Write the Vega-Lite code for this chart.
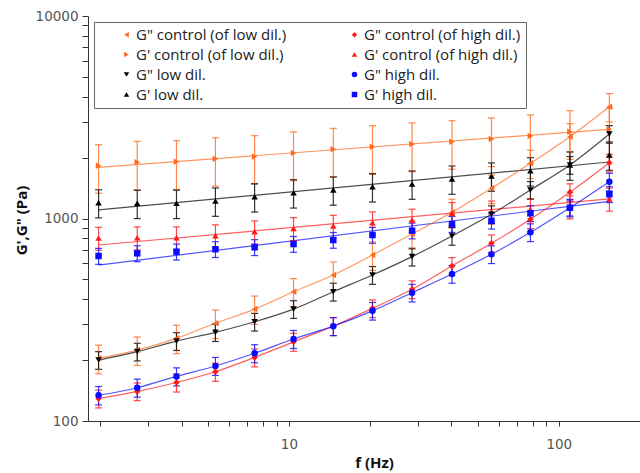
{
  "$schema": "https://vega.github.io/schema/vega-lite/v6.json",
  "width": 552,
  "height": 405,
  "autosize": {"type": "none"},
  "padding": {"left": 88, "top": 16, "right": 0, "bottom": 52},
  "config": {
    "view": {"stroke": null}, "font": "Open Sans",
    "legend": {
      "orient": "none", "legendX": 6, "legendY": 6, "columns": 2,
      "columnPadding": 40, "rowPadding": 4, "padding": 5,
      "strokeColor": "#666", "fillColor": "white",
      "labelFont": "Open Sans", "labelFontSize": 15, "labelColor": "#222", "labelLimit": 400,
      "symbolSize": 30, "symbolOffset": 20, "labelOffset": 2, "symbolStrokeWidth": 0, "symbolOpacity": 1
    }
  },
  "datasets": {
    "fit": [
      {"s": "G' control (of low dil.)", "f": 1.97, "v": 1790},
      {"s": "G' control (of low dil.)", "f": 154, "v": 2757},
      {"s": "G' control (of high dil.)", "f": 1.97, "v": 740},
      {"s": "G' control (of high dil.)", "f": 154, "v": 1249},
      {"s": "G' low dil.", "f": 1.97, "v": 1102},
      {"s": "G' low dil.", "f": 154, "v": 1901},
      {"s": "G' high dil.", "f": 1.97, "v": 589},
      {"s": "G' high dil.", "f": 154, "v": 1215}
    ],
    "pts": [
      {"s": "G\" control (of low dil.)", "f": 1.97, "v": 204, "e": 33},
      {"s": "G\" control (of low dil.)", "f": 2.74, "v": 224, "e": 36},
      {"s": "G\" control (of low dil.)", "f": 3.83, "v": 256, "e": 41},
      {"s": "G\" control (of low dil.)", "f": 5.34, "v": 304, "e": 49},
      {"s": "G\" control (of low dil.)", "f": 7.46, "v": 357, "e": 57},
      {"s": "G\" control (of low dil.)", "f": 10.4, "v": 435, "e": 70},
      {"s": "G\" control (of low dil.)", "f": 14.6, "v": 526, "e": 84},
      {"s": "G\" control (of low dil.)", "f": 20.4, "v": 660, "e": 106},
      {"s": "G\" control (of low dil.)", "f": 28.6, "v": 838, "e": 134},
      {"s": "G\" control (of low dil.)", "f": 40.2, "v": 1073, "e": 172},
      {"s": "G\" control (of low dil.)", "f": 56.3, "v": 1410, "e": 226},
      {"s": "G\" control (of low dil.)", "f": 78.5, "v": 1873, "e": 300},
      {"s": "G\" control (of low dil.)", "f": 110, "v": 2535, "e": 406},
      {"s": "G\" control (of low dil.)", "f": 154, "v": 3566, "e": 570},
      {"s": "G\" control (of high dil.)", "f": 1.97, "v": 129, "e": 13},
      {"s": "G\" control (of high dil.)", "f": 2.74, "v": 140, "e": 14},
      {"s": "G\" control (of high dil.)", "f": 3.83, "v": 155, "e": 16},
      {"s": "G\" control (of high dil.)", "f": 5.34, "v": 175, "e": 18},
      {"s": "G\" control (of high dil.)", "f": 7.46, "v": 206, "e": 21},
      {"s": "G\" control (of high dil.)", "f": 10.4, "v": 246, "e": 25},
      {"s": "G\" control (of high dil.)", "f": 14.6, "v": 294, "e": 30},
      {"s": "G\" control (of high dil.)", "f": 20.4, "v": 360, "e": 36},
      {"s": "G\" control (of high dil.)", "f": 28.6, "v": 447, "e": 45},
      {"s": "G\" control (of high dil.)", "f": 40.2, "v": 583, "e": 58},
      {"s": "G\" control (of high dil.)", "f": 56.3, "v": 754, "e": 75},
      {"s": "G\" control (of high dil.)", "f": 78.5, "v": 991, "e": 99},
      {"s": "G\" control (of high dil.)", "f": 110, "v": 1348, "e": 135},
      {"s": "G\" control (of high dil.)", "f": 154, "v": 1886, "e": 189},
      {"s": "G' control (of low dil.)", "f": 1.97, "v": 1823, "e": 490},
      {"s": "G' control (of low dil.)", "f": 2.74, "v": 1895, "e": 510},
      {"s": "G' control (of low dil.)", "f": 3.83, "v": 1908, "e": 515},
      {"s": "G' control (of low dil.)", "f": 5.34, "v": 1974, "e": 530},
      {"s": "G' control (of low dil.)", "f": 7.46, "v": 2020, "e": 545},
      {"s": "G' control (of low dil.)", "f": 10.4, "v": 2107, "e": 570},
      {"s": "G' control (of low dil.)", "f": 14.6, "v": 2197, "e": 590},
      {"s": "G' control (of low dil.)", "f": 20.4, "v": 2263, "e": 610},
      {"s": "G' control (of low dil.)", "f": 28.6, "v": 2333, "e": 630},
      {"s": "G' control (of low dil.)", "f": 40.2, "v": 2395, "e": 645},
      {"s": "G' control (of low dil.)", "f": 56.3, "v": 2470, "e": 665},
      {"s": "G' control (of low dil.)", "f": 78.5, "v": 2556, "e": 690},
      {"s": "G' control (of low dil.)", "f": 110, "v": 2683, "e": 725},
      {"s": "G' control (of low dil.)", "f": 154, "v": 2757, "e": 745},
      {"s": "G' control (of high dil.)", "f": 1.97, "v": 801, "e": 104},
      {"s": "G' control (of high dil.)", "f": 2.74, "v": 804, "e": 105},
      {"s": "G' control (of high dil.)", "f": 3.83, "v": 804, "e": 105},
      {"s": "G' control (of high dil.)", "f": 5.34, "v": 823, "e": 107},
      {"s": "G' control (of high dil.)", "f": 7.46, "v": 861, "e": 112},
      {"s": "G' control (of high dil.)", "f": 10.4, "v": 894, "e": 116},
      {"s": "G' control (of high dil.)", "f": 14.6, "v": 918, "e": 119},
      {"s": "G' control (of high dil.)", "f": 20.4, "v": 954, "e": 124},
      {"s": "G' control (of high dil.)", "f": 28.6, "v": 983, "e": 128},
      {"s": "G' control (of high dil.)", "f": 40.2, "v": 1061, "e": 138},
      {"s": "G' control (of high dil.)", "f": 56.3, "v": 1080, "e": 140},
      {"s": "G' control (of high dil.)", "f": 78.5, "v": 1110, "e": 144},
      {"s": "G' control (of high dil.)", "f": 110, "v": 1144, "e": 149},
      {"s": "G' control (of high dil.)", "f": 154, "v": 1250, "e": 163},
      {"s": "G\" low dil.", "f": 1.97, "v": 200, "e": 20},
      {"s": "G\" low dil.", "f": 2.74, "v": 220, "e": 22},
      {"s": "G\" low dil.", "f": 3.83, "v": 248, "e": 25},
      {"s": "G\" low dil.", "f": 5.34, "v": 274, "e": 27},
      {"s": "G\" low dil.", "f": 7.46, "v": 309, "e": 31},
      {"s": "G\" low dil.", "f": 10.4, "v": 357, "e": 36},
      {"s": "G\" low dil.", "f": 14.6, "v": 435, "e": 44},
      {"s": "G\" low dil.", "f": 20.4, "v": 526, "e": 53},
      {"s": "G\" low dil.", "f": 28.6, "v": 648, "e": 65},
      {"s": "G\" low dil.", "f": 40.2, "v": 820, "e": 82},
      {"s": "G\" low dil.", "f": 56.3, "v": 1049, "e": 105},
      {"s": "G\" low dil.", "f": 78.5, "v": 1383, "e": 138},
      {"s": "G\" low dil.", "f": 110, "v": 1838, "e": 184},
      {"s": "G\" low dil.", "f": 154, "v": 2614, "e": 261},
      {"s": "G\" high dil.", "f": 1.97, "v": 134, "e": 14},
      {"s": "G\" high dil.", "f": 2.74, "v": 146, "e": 15},
      {"s": "G\" high dil.", "f": 3.83, "v": 166, "e": 17},
      {"s": "G\" high dil.", "f": 5.34, "v": 187, "e": 19},
      {"s": "G\" high dil.", "f": 7.46, "v": 216, "e": 22},
      {"s": "G\" high dil.", "f": 10.4, "v": 254, "e": 26},
      {"s": "G\" high dil.", "f": 14.6, "v": 294, "e": 30},
      {"s": "G\" high dil.", "f": 20.4, "v": 350, "e": 35},
      {"s": "G\" high dil.", "f": 28.6, "v": 430, "e": 43},
      {"s": "G\" high dil.", "f": 40.2, "v": 532, "e": 53},
      {"s": "G\" high dil.", "f": 56.3, "v": 666, "e": 67},
      {"s": "G\" high dil.", "f": 78.5, "v": 855, "e": 86},
      {"s": "G\" high dil.", "f": 110, "v": 1131, "e": 113},
      {"s": "G\" high dil.", "f": 154, "v": 1520, "e": 152},
      {"s": "G' low dil.", "f": 1.97, "v": 1197, "e": 190},
      {"s": "G' low dil.", "f": 2.74, "v": 1189, "e": 190},
      {"s": "G' low dil.", "f": 3.83, "v": 1189, "e": 190},
      {"s": "G' low dil.", "f": 5.34, "v": 1220, "e": 195},
      {"s": "G' low dil.", "f": 7.46, "v": 1281, "e": 205},
      {"s": "G' low dil.", "f": 10.4, "v": 1341, "e": 215},
      {"s": "G' low dil.", "f": 14.6, "v": 1383, "e": 220},
      {"s": "G' low dil.", "f": 20.4, "v": 1436, "e": 230},
      {"s": "G' low dil.", "f": 28.6, "v": 1481, "e": 237},
      {"s": "G' low dil.", "f": 40.2, "v": 1567, "e": 250},
      {"s": "G' low dil.", "f": 56.3, "v": 1622, "e": 260},
      {"s": "G' low dil.", "f": 78.5, "v": 1722, "e": 275},
      {"s": "G' low dil.", "f": 110, "v": 1838, "e": 294},
      {"s": "G' low dil.", "f": 154, "v": 2059, "e": 330},
      {"s": "G' high dil.", "f": 1.97, "v": 653, "e": 59},
      {"s": "G' high dil.", "f": 2.74, "v": 673, "e": 61},
      {"s": "G' high dil.", "f": 3.83, "v": 686, "e": 62},
      {"s": "G' high dil.", "f": 5.34, "v": 705, "e": 63},
      {"s": "G' high dil.", "f": 7.46, "v": 721, "e": 65},
      {"s": "G' high dil.", "f": 10.4, "v": 748, "e": 67},
      {"s": "G' high dil.", "f": 14.6, "v": 783, "e": 70},
      {"s": "G' high dil.", "f": 20.4, "v": 829, "e": 75},
      {"s": "G' high dil.", "f": 28.6, "v": 871, "e": 78},
      {"s": "G' high dil.", "f": 40.2, "v": 939, "e": 85},
      {"s": "G' high dil.", "f": 56.3, "v": 975, "e": 88},
      {"s": "G' high dil.", "f": 78.5, "v": 1061, "e": 95},
      {"s": "G' high dil.", "f": 110, "v": 1131, "e": 102},
      {"s": "G' high dil.", "f": 154, "v": 1317, "e": 119}
    ]
  },
  "encoding": {
    "x": {
      "field": "f", "type": "quantitative",
      "scale": {"type": "log", "domain": [1.8, 200], "nice": false},
      "axis": {
        "title": "f (Hz)",
        "values": [2, 3, 4, 5, 6, 7, 8, 9, 10, 20, 30, 40, 50, 60, 70, 80, 90, 100, 200],
        "labelExpr": "datum.value == 10 ? '10' : datum.value == 100 ? '100' : ''",
        "labelFont": "DejaVu Sans", "labelFontSize": 13.5, "labelColor": "#555",
        "labelPadding": 11, "labelOverlap": false, "labelBound": false, "labelFlush": false,
        "tickSize": 5, "tickColor": "#333", "domainColor": "#333", "grid": false,
        "titleFont": "Open Sans", "titleFontSize": 15, "titleFontWeight": "bold", "titleColor": "#111",
        "titleX": 286, "titleY": 46, "titleBaseline": "alphabetic", "titleAlign": "center",
        "encode": {"ticks": {"update": {"y2": {"signal": "(datum.value == 10 || datum.value == 100) ? 7 : 5"}}}}
      }
    },
    "y": {
      "field": "v", "type": "quantitative",
      "scale": {"type": "log", "domain": [100, 10000], "nice": false},
      "axis": {
        "title": "G',G\" (Pa)",
        "values": [100, 200, 300, 400, 500, 600, 700, 800, 900, 1000, 2000, 3000, 4000, 5000, 6000, 7000, 8000, 9000, 10000],
        "labelExpr": "datum.value == 100 ? '100' : datum.value == 1000 ? '1000' : datum.value == 10000 ? '10000' : ''",
        "labelFont": "DejaVu Sans", "labelFontSize": 13.5, "labelColor": "#555",
        "labelPadding": 4, "labelOverlap": false, "labelBound": false, "labelFlush": false,
        "tickSize": 6, "tickColor": "#333", "domainColor": "#333", "grid": false,
        "titleFont": "Open Sans", "titleFontSize": 15, "titleFontWeight": "bold", "titleColor": "#111",
        "titleX": -62, "titleY": 204, "titleAngle": -90, "titleBaseline": "alphabetic", "titleAlign": "center",
        "encode": {"ticks": {"update": {"x2": {"signal": "(datum.value == 100 || datum.value == 1000 || datum.value == 10000) ? -6 : -3"}}}}
      }
    },
    "color": {"field": "s", "type": "nominal", "title": null,
      "scale": {
        "domain": ["G\" control (of low dil.)", "G' control (of low dil.)", "G\" low dil.", "G' low dil.", "G\" control (of high dil.)", "G' control (of high dil.)", "G\" high dil.", "G' high dil."],
        "range": ["#ff6a1f", "#ff6a1f", "#000000", "#000000", "#ff1a1a", "#ff1a1a", "#0a0aff", "#0a0aff"]
      }}
  },
  "layer": [
    {
      "data": {"name": "fit"},
      "mark": {"type": "line", "strokeWidth": 1.2, "opacity": 0.7}
    },
    {
      "data": {"name": "pts"},
      "transform": [{"filter": {"field": "s", "oneOf": ["G\" control (of low dil.)", "G\" control (of high dil.)", "G\" low dil.", "G\" high dil."]}}],
      "mark": {"type": "line", "strokeWidth": 1.2, "opacity": 0.7, "interpolate": "monotone"}
    },
    {
      "data": {"name": "pts"},
      "mark": {"type": "errorbar", "ticks": {"size": 7}, "thickness": 1.2, "opacity": 0.8},
      "encoding": {
        "yError": {"field": "e"}
      }
    },
    {
      "data": {"name": "pts"},
      "mark": {"type": "point", "filled": true, "opacity": 1, "size": 42},
      "encoding": {
        "shape": {"field": "s", "type": "nominal", "title": null,
          "scale": {
            "domain": ["G\" control (of low dil.)", "G' control (of low dil.)", "G\" low dil.", "G' low dil.", "G\" control (of high dil.)", "G' control (of high dil.)", "G\" high dil.", "G' high dil."],
            "range": ["triangle-left", "triangle-right", "triangle-down", "triangle-up", "diamond", "triangle-up", "circle", "square"]
          }}
      }
    }
  ]
}
